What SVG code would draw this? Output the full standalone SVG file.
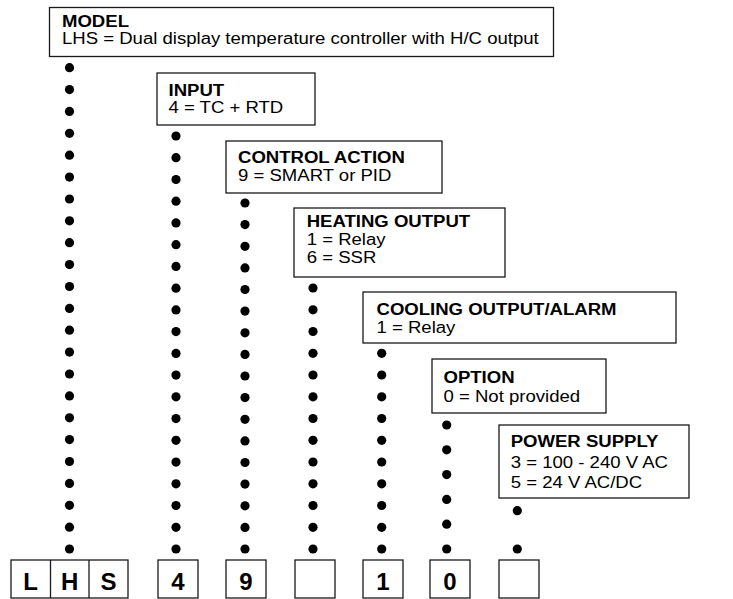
<svg xmlns="http://www.w3.org/2000/svg" width="733" height="599" viewBox="0 0 733 599">
<style>
.box{fill:#fff;stroke:#1a1a1a;stroke-width:1.3}
.t{font-family:"Liberation Sans",Arial,sans-serif;font-size:16px;fill:#000}
.b{font-weight:bold}
.dot{fill:#000}
.code{font-family:"Liberation Sans",Arial,sans-serif;font-size:24px;font-weight:bold;fill:#000;text-anchor:middle}
</style>
<rect width="733" height="599" fill="#fff"/>
<g id="connectors">
<g id="col1" class="dot">
<circle cx="69.5" cy="67.7" r="4.6"/><circle cx="69.5" cy="89.6" r="4.6"/><circle cx="69.5" cy="111.4" r="4.6"/><circle cx="69.5" cy="133.3" r="4.6"/><circle cx="69.5" cy="155.2" r="4.6"/><circle cx="69.5" cy="177.1" r="4.6"/><circle cx="69.5" cy="199" r="4.6"/><circle cx="69.5" cy="220.8" r="4.6"/><circle cx="69.5" cy="242.7" r="4.6"/><circle cx="69.5" cy="264.6" r="4.6"/><circle cx="69.5" cy="286.5" r="4.6"/><circle cx="69.5" cy="308.4" r="4.6"/><circle cx="69.5" cy="330.2" r="4.6"/><circle cx="69.5" cy="352.1" r="4.6"/><circle cx="69.5" cy="374" r="4.6"/><circle cx="69.5" cy="395.9" r="4.6"/><circle cx="69.5" cy="417.8" r="4.6"/><circle cx="69.5" cy="439.6" r="4.6"/><circle cx="69.5" cy="461.5" r="4.6"/><circle cx="69.5" cy="483.4" r="4.6"/><circle cx="69.5" cy="505.3" r="4.6"/><circle cx="69.5" cy="527.2" r="4.6"/><circle cx="69.5" cy="549" r="4.6"/>
</g>
<g id="col2" class="dot">
<circle cx="176" cy="136" r="4.6"/><circle cx="176" cy="157.7" r="4.6"/><circle cx="176" cy="179.5" r="4.6"/><circle cx="176" cy="201.2" r="4.6"/><circle cx="176" cy="222.9" r="4.6"/><circle cx="176" cy="244.7" r="4.6"/><circle cx="176" cy="266.4" r="4.6"/><circle cx="176" cy="288.2" r="4.6"/><circle cx="176" cy="309.9" r="4.6"/><circle cx="176" cy="331.6" r="4.6"/><circle cx="176" cy="353.4" r="4.6"/><circle cx="176" cy="375.1" r="4.6"/><circle cx="176" cy="396.8" r="4.6"/><circle cx="176" cy="418.6" r="4.6"/><circle cx="176" cy="440.3" r="4.6"/><circle cx="176" cy="462.1" r="4.6"/><circle cx="176" cy="483.8" r="4.6"/><circle cx="176" cy="505.5" r="4.6"/><circle cx="176" cy="527.3" r="4.6"/><circle cx="176" cy="549" r="4.6"/>
</g>
<g id="col3" class="dot">
<circle cx="245" cy="203" r="4.6"/><circle cx="245" cy="224.6" r="4.6"/><circle cx="245" cy="246.3" r="4.6"/><circle cx="245" cy="267.9" r="4.6"/><circle cx="245" cy="289.5" r="4.6"/><circle cx="245" cy="311.1" r="4.6"/><circle cx="245" cy="332.8" r="4.6"/><circle cx="245" cy="354.4" r="4.6"/><circle cx="245" cy="376" r="4.6"/><circle cx="245" cy="397.6" r="4.6"/><circle cx="245" cy="419.3" r="4.6"/><circle cx="245" cy="440.9" r="4.6"/><circle cx="245" cy="462.5" r="4.6"/><circle cx="245" cy="484.1" r="4.6"/><circle cx="245" cy="505.8" r="4.6"/><circle cx="245" cy="527.4" r="4.6"/><circle cx="245" cy="549" r="4.6"/>
</g>
<g id="col4" class="dot">
<circle cx="313" cy="288" r="4.6"/><circle cx="313" cy="309.8" r="4.6"/><circle cx="313" cy="331.5" r="4.6"/><circle cx="313" cy="353.3" r="4.6"/><circle cx="313" cy="375" r="4.6"/><circle cx="313" cy="396.8" r="4.6"/><circle cx="313" cy="418.5" r="4.6"/><circle cx="313" cy="440.3" r="4.6"/><circle cx="313" cy="462" r="4.6"/><circle cx="313" cy="483.8" r="4.6"/><circle cx="313" cy="505.5" r="4.6"/><circle cx="313" cy="527.3" r="4.6"/><circle cx="313" cy="549" r="4.6"/>
</g>
<g id="col5" class="dot">
<circle cx="381.7" cy="353.3" r="4.6"/><circle cx="381.7" cy="375" r="4.6"/><circle cx="381.7" cy="396.8" r="4.6"/><circle cx="381.7" cy="418.5" r="4.6"/><circle cx="381.7" cy="440.3" r="4.6"/><circle cx="381.7" cy="462" r="4.6"/><circle cx="381.7" cy="483.8" r="4.6"/><circle cx="381.7" cy="505.5" r="4.6"/><circle cx="381.7" cy="527.3" r="4.6"/><circle cx="381.7" cy="549" r="4.6"/>
</g>
<g id="col6" class="dot">
<circle cx="446.7" cy="425" r="4.6"/><circle cx="446.7" cy="449.8" r="4.6"/><circle cx="446.7" cy="474.6" r="4.6"/><circle cx="446.7" cy="499.4" r="4.6"/><circle cx="446.7" cy="524.2" r="4.6"/><circle cx="446.7" cy="549" r="4.6"/>
</g>
<g id="col7" class="dot">
<circle cx="517.3" cy="510.7" r="4.6"/><circle cx="517.3" cy="549" r="4.6"/>
</g>
</g>
<g id="model">
<rect class="box" x="49.5" y="7.5" width="504" height="49"/>
<g transform="translate(62,0) scale(1.16,1)">
<text class="t b" x="0" y="27">MODEL</text>
<text class="t" x="0" y="44">LHS = Dual display temperature controller with H/C output</text>
</g>
</g>
<g id="input">
<rect class="box" x="157" y="73" width="158" height="52"/>
<g transform="translate(168.5,0) scale(1.16,1)">
<text class="t b" x="0" y="96">INPUT</text>
<text class="t" x="0" y="113">4 = TC + RTD</text>
</g>
</g>
<g id="control-action">
<rect class="box" x="226" y="141" width="216" height="52"/>
<g transform="translate(238,0) scale(1.16,1)">
<text class="t b" x="0" y="163">CONTROL ACTION</text>
<text class="t" x="0" y="181.5">9 = SMART or PID</text>
</g>
</g>
<g id="heating-output">
<rect class="box" x="294" y="208" width="211" height="69"/>
<g transform="translate(306.7,0) scale(1.16,1)">
<text class="t b" x="0" y="227">HEATING OUTPUT</text>
<text class="t" x="0" y="245">1 = Relay</text>
<text class="t" x="0" y="263.5">6 = SSR</text>
</g>
</g>
<g id="cooling-output">
<rect class="box" x="363" y="292" width="313" height="51"/>
<g transform="translate(376.5,0) scale(1.16,1)">
<text class="t b" x="0" y="315">COOLING OUTPUT/ALARM</text>
<text class="t" x="0" y="333">1 = Relay</text>
</g>
</g>
<g id="option">
<rect class="box" x="432" y="359" width="174" height="54"/>
<g transform="translate(443.5,0) scale(1.16,1)">
<text class="t b" x="0" y="383">OPTION</text>
<text class="t" x="0" y="402">0 = Not provided</text>
</g>
</g>
<g id="power-supply">
<rect class="box" x="499" y="425" width="190" height="73"/>
<g transform="translate(510.7,0) scale(1.16,1)">
<text class="t b" x="0" y="447">POWER SUPPLY</text>
<text class="t" x="0" y="468">3 = 100 - 240 V AC</text>
<text class="t" x="0" y="488.5">5 = 24 V AC/DC</text>
</g>
</g>
<g id="code">
<rect class="box" x="11" y="560" width="117" height="38"/>
<line x1="50.5" y1="560" x2="50.5" y2="598" stroke="#1a1a1a" stroke-width="1.3"/>
<line x1="89" y1="560" x2="89" y2="598" stroke="#1a1a1a" stroke-width="1.3"/>
<text class="code" x="30.7" y="589.5">L</text>
<text class="code" x="69.7" y="589.5">H</text>
<text class="code" x="108.5" y="589.5">S</text>
<rect class="box" x="158" y="560" width="40" height="38"/>
<text class="code" x="178" y="589.5">4</text>
<rect class="box" x="226" y="560" width="40" height="38"/>
<text class="code" x="246" y="589.5">9</text>
<rect class="box" x="295" y="560" width="40" height="38"/>
<rect class="box" x="363" y="560" width="40" height="38"/>
<text class="code" x="383" y="589.5">1</text>
<rect class="box" x="430" y="560" width="40" height="38"/>
<text class="code" x="450" y="589.5">0</text>
<rect class="box" x="499" y="560" width="40" height="38"/>
</g>
</svg>
